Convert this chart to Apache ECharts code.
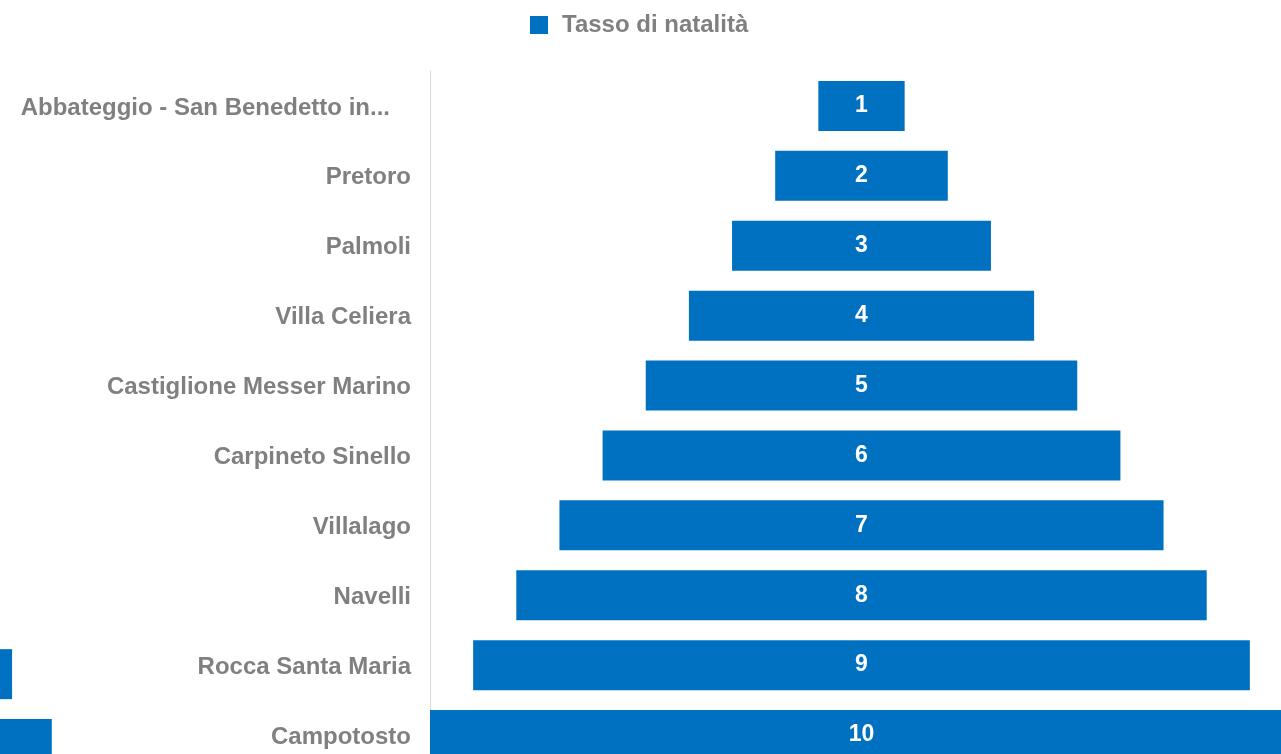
<!DOCTYPE html>
<html>
<head>
<meta charset="utf-8">
<script src="https://cdn.jsdelivr.net/npm/echarts@6/dist/echarts.min.js"></script>
<style>html,body{margin:0;padding:0;background:#fff;overflow:hidden;width:1281px;height:754px}#c{width:1320px;height:800px}</style>
</head>
<body>
<div id="c"></div>
<script>
const categories = ['Abbateggio - San Benedetto in...', 'Pretoro', 'Palmoli', 'Villa Celiera', 'Castiglione Messer Marino', 'Carpineto Sinello', 'Villalago', 'Navelli', 'Rocca Santa Maria', 'Campotosto'];
const values = [1, 2, 3, 4, 5, 6, 7, 8, 9, 10];
const leftEdge = [0, 0, 0, 0, 0, 0, 0, 0, 0.14, 0.6];
const seriesName = 'Tasso di natalità';

const maxV = Math.max(...values);
const offsets = values.map(v => (maxV - v) / 2);
const blue = '#0070C0';
const font = '"Liberation Sans", Arial, sans-serif';

const chart = echarts.init(document.getElementById('c'), null, {renderer: 'canvas'});
chart.setOption({
  animation: false,
  legend: {
    data: [seriesName],
    left: 525, top: 8,
    itemWidth: 18, itemHeight: 18,
    icon: 'rect',
    textStyle: {color: '#808080', fontSize: 24, fontWeight: 'bold', fontFamily: font, padding: [0, 0, 0, 9]}
  },
  grid: [
    {left: 430, top: 71, width: 863, height: 699, containLabel: false},
    {left: 0, top: 80, width: 863, height: 699, containLabel: false}
  ],
  xAxis: [
    {type: 'value', min: 0, max: maxV, show: false, gridIndex: 0},
    {type: 'value', min: 0, max: maxV, show: false, gridIndex: 1}
  ],
  yAxis: [
    {
      type: 'category', data: categories, inverse: true, gridIndex: 0,
      axisLine: {show: true, lineStyle: {color: '#d9d9d9', width: 1}},
      axisTick: {show: false},
      splitLine: {show: false},
      axisLabel: {
        margin: 19, color: '#808080', fontSize: 24, fontWeight: 'bold', fontFamily: font,
        padding: [4, 0, 0, 0],
        formatter: v => v.endsWith('...') ? '{e|' + v + '}' : v,
        rich: {e: {color: '#808080', fontSize: 24, fontWeight: 'bold', fontFamily: font, padding: [0, 21, 0, 0]}}
      }
    },
    {type: 'category', data: categories, inverse: true, gridIndex: 1, show: false}
  ],
  series: [
    {
      name: 'offset', type: 'bar', stack: 'f', data: offsets, barWidth: 50,
      itemStyle: {color: 'transparent'}, silent: true, xAxisIndex: 0, yAxisIndex: 0
    },
    {
      name: seriesName, type: 'bar', stack: 'f', data: values, barWidth: 50,
      itemStyle: {color: blue}, xAxisIndex: 0, yAxisIndex: 0, clip: false,
      label: {show: true, position: 'inside', color: '#fff', fontSize: 23, fontWeight: 'bold', fontFamily: font}
    },
    {
      name: 'edge', type: 'bar', data: leftEdge, barWidth: 50,
      itemStyle: {color: blue}, xAxisIndex: 1, yAxisIndex: 1, silent: true
    }
  ]
});
</script>
</body>
</html>
